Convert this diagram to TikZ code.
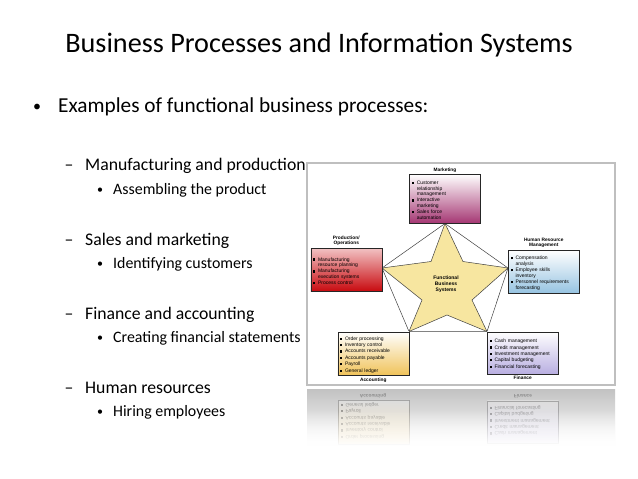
\documentclass[tikz,border=0pt]{standalone}
\usepackage{fontspec}
\setmainfont{Carlito}
\newfontfamily\figfont{Liberation Sans}
\usetikzlibrary{fadings}
\definecolor{mktpurple}{RGB}{165,55,115}
\definecolor{prodred}{RGB}{200,10,15}
\definecolor{hrblue}{RGB}{150,195,225}
\definecolor{acctyellow}{RGB}{240,195,90}
\definecolor{finlilac}{RGB}{185,175,225}
\definecolor{starfill}{RGB}{247,230,160}
\newcommand{\sq}{\rule[0.15ex]{0.85ex}{0.85ex}}
\newcommand{\itm}[1]{\par\hangindent=1.8ex\hangafter=1\noindent\makebox[1.8ex][l]{\sq}#1\par}
\newcommand{\acctitems}{\itm{Order processing}\itm{Inventory control}\itm{Accounts receivable}\itm{Accounts payable}\itm{Payroll}\itm{General ledger}}
\newcommand{\finitems}{\itm{Cash management}\itm{Credit management}\itm{Investment management}\itm{Capital budgeting}\itm{Financial forecasting}}
\tikzset{
	slidetitle/.style={anchor=base, inner sep=0pt, font=\fontsize{28.2}{32}\selectfont},
	lvlone/.style={anchor=base west, inner sep=0pt, font=\fontsize{21.3}{25}\selectfont},
	lvltwo/.style={anchor=base west, inner sep=0pt, font=\fontsize{17.7}{21}\selectfont},
	lvlthree/.style={anchor=base west, inner sep=0pt, font=\fontsize{15.9}{19}\selectfont},
	bulletmark/.style={anchor=base, inner sep=0pt},
	funcbox/.style={draw=black!85, line width=0.5pt, minimum width=71pt, text width=66pt, inner sep=2pt, align=left,
		font=\figfont\fontsize{5}{5.5}\selectfont, execute at begin node={\setlength{\parskip}{0.9pt}}},
	boxlabel/.style={font=\figfont\bfseries\fontsize{4.8}{5.6}\selectfont, align=center, inner sep=0pt},
	ringline/.style={draw=black!75, line width=0.5pt}
}
\begin{document}
\begin{tikzpicture}[x=1pt, y=-1pt]
		%%%%% START %%%%%
		\useasboundingbox[fill=white] (0, 0) rectangle (638, 479);
		
		\node[slidetitle] (title) at (319, 52.7) {Business Processes and Information Systems};
		\node[bulletmark, font=\fontsize{16}{18}\selectfont] at (37, 111) {•};
		\node[lvlone] (ex) at (58, 112.7) {Examples of functional business processes:};
		
		\node[lvltwo, bulletmark] at (69, 170.7) {–};
		\node[lvltwo] (mfg) at (85, 170.7) {Manufacturing and production};
		\node[bulletmark, font=\fontsize{12}{14}\selectfont] at (100, 193) {•};
		\node[lvlthree] (asm) at (113, 194) {Assembling the product};
		\node[lvltwo, bulletmark] at (69, 245.7) {–};
		\node[lvltwo] (sal) at (85, 245.7) {Sales and marketing};
		\node[bulletmark, font=\fontsize{12}{14}\selectfont] at (100, 267.3) {•};
		\node[lvlthree] (idc) at (113, 268.3) {Identifying customers};
		\node[lvltwo, bulletmark] at (69, 319.3) {–};
		\node[lvltwo] (fna) at (85, 319.3) {Finance and accounting};
		\node[bulletmark, font=\fontsize{12}{14}\selectfont] at (100, 341.7) {•};
		\node[lvlthree] (cfs) at (113, 342.7) {Creating financial statements};
		\node[lvltwo, bulletmark] at (69, 393) {–};
		\node[lvltwo] (hum) at (85, 393) {Human resources};
		\node[bulletmark, font=\fontsize{12}{14}\selectfont] at (100, 415) {•};
		\node[lvlthree] (hir) at (113, 416) {Hiring employees};
		
		% picture frame and its reflection
		\fill[top color=black!24, bottom color=white] (307, 389) rectangle (615, 446);
		\begin{scope}
			\clip (307, 389) rectangle (615, 446);
			\begin{scope}[shift={(0, 776)}, yscale=-1, transform shape, opacity=0.3]
				\node[funcbox, top color=white, bottom color=acctyellow, minimum height=42pt, anchor=north west] (racct) at (338, 332) {\acctitems};
				\node[funcbox, top color=white, bottom color=finlilac, minimum height=42pt, anchor=north west] (rfin) at (487, 333) {\finitems};
				\node[boxlabel] at (373, 380) {Accounting};
				\node[boxlabel] at (523, 380) {Finance};
			\end{scope}
		\end{scope}
		\fill[white, path fading=north] (307, 410) rectangle (615, 447);
		\draw[black!25, line width=1.6pt, fill=white] (307, 163) rectangle (615, 385);
		
		% star points
		\coordinate (ptop) at (445, 223.5);
		\coordinate (pleft) at (382, 268);
		\coordinate (pright) at (508, 268);
		\coordinate (pbl) at (409, 331.5);
		\coordinate (pbr) at (487, 331.5);
		
		\draw[ringline] (ptop) -- (pleft) -- (pbl) -- (pbr) -- (pright) -- cycle;
		\draw[ringline, fill=starfill] (ptop) -- (463, 261.5) -- (pright) -- (472, 300) -- (pbr) -- (447, 315)
			-- (pbl) -- (422, 300) -- (pleft) -- (431, 261.5) -- cycle;
		\node[boxlabel, font=\figfont\bfseries\fontsize{5}{6}\selectfont] (fbs) at (446, 284) {Functional\\Business\\Systems};
		
		\node[funcbox, top color=white, bottom color=mktpurple, minimum height=49pt, anchor=south] (mkt) at (ptop) {\itm{Customer\newline relationship\newline management}\itm{Interactive\newline marketing}\itm{Sales force\newline automation}};
		\node[funcbox, top color=prodred!25, bottom color=prodred, minimum height=43pt, anchor=north east] (prod) at (382, 248) {\itm{Manufacturing\newline resource planning}\itm{Manufacturing\newline execution systems}\itm{Process control}};
		\node[funcbox, top color=white, bottom color=hrblue, minimum height=43pt, anchor=north west] (hr) at (508, 250) {\itm{Compensation\newline analysis}\itm{Employee skills\newline inventory}\itm{Personnel requirements\newline forecasting}};
		\node[funcbox, top color=white, bottom color=acctyellow, minimum height=42pt, anchor=north east] (acct) at (pbl) {\acctitems};
		\node[funcbox, top color=white, bottom color=finlilac, minimum height=42pt, anchor=north west] (fin) at (pbr) {\finitems};
		
		\node[boxlabel, anchor=south] at ([yshift=1.5pt]mkt.north) {Marketing};
		\node[boxlabel, anchor=south] at ([yshift=2pt]prod.north) {Production/\\Operations};
		\node[boxlabel, anchor=south] at ([yshift=2pt]hr.north) {Human Resource\\Management};
		\node[boxlabel, anchor=north] at ([yshift=-2pt]acct.south) {Accounting};
		\node[boxlabel, anchor=north] at ([yshift=-2pt]fin.south) {Finance};
		%%%%% END %%%%%
\end{tikzpicture}
\end{document}
